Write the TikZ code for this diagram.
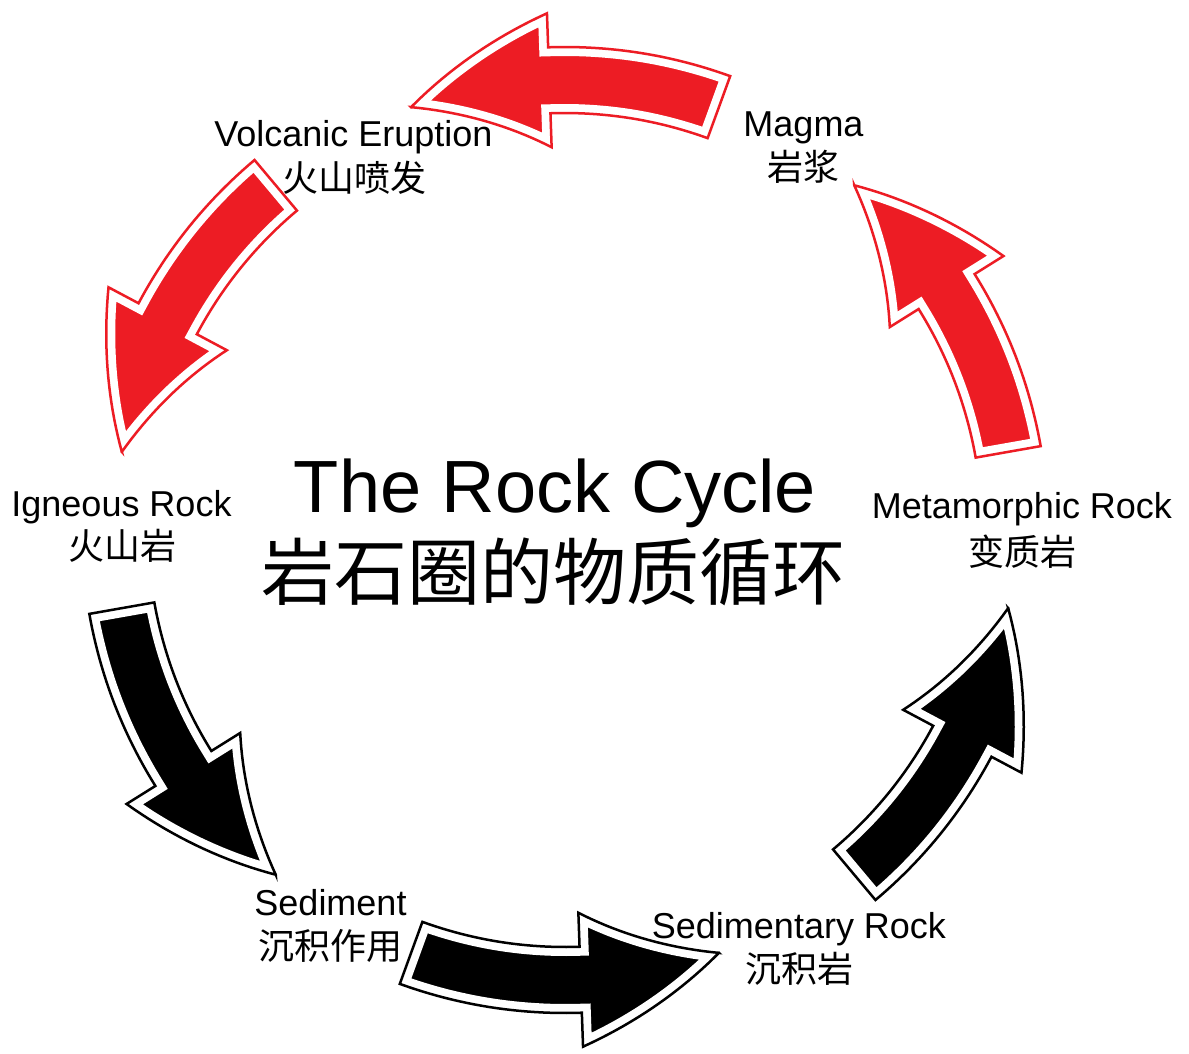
\documentclass[tikz,border=0pt]{standalone}
\usepackage{fontspec}
\setmainfont{Liberation Sans}
\newfontfamily\cjk{Noto Sans CJK SC}
\definecolor{rockred}{HTML}{ED1C24}
\tikzset{
  lbl/.style={anchor=base, inner sep=0pt, font=\fontsize{36}{40}\selectfont},
  cjklbl/.style={anchor=base, inner sep=0pt, font=\cjk\fontsize{36}{40}\selectfont},
  titlelbl/.style={anchor=base, inner sep=0pt, font=\fontsize{74}{80}\selectfont},
  cjktitle/.style={anchor=base, inner sep=0pt, font=\cjk\fontsize{73}{80}\selectfont},
  blockarrow/.style={preaction={fill=#1}, draw=white, line width=18pt, line join=miter,
    postaction={draw=#1, line width=2.5pt, line join=miter}}
}
\newcommand\rockarrow[2]{%
  \pgfmathsetmacro\ta{#1}%
  \pgfmathsetmacro\tb{#1+22}%
  \pgfmathsetmacro\tc{#1+40}%
  \path[blockarrow=#2]
    plot[domain=\ta:\tb, samples=25] (\x:483)
    -- (\tb:517)
    -- plot[domain=\tb:\tc, samples=20] (\x:{517-(\x-\tb)*67/18})
    -- plot[domain=\tc:\tb, samples=20] (\x:{383+(\x-\tb)*67/18})
    -- (\tb:417)
    -- plot[domain=\tb:\ta, samples=25] (\x:417)
    -- cycle;
}
\begin{document}
\begin{tikzpicture}[x=1pt, y=1pt]
  \useasboundingbox (0,0) rectangle (1189,-1053);
  \fill[white] (0,0) rectangle (1189,-1053);
  \begin{scope}[shift={(565,-530)}]
    \rockarrow{70}{rockred}
    \rockarrow{130}{rockred}
    \rockarrow{190}{black}
    \rockarrow{250}{black}
    \rockarrow{310}{black}
    \rockarrow{10}{rockred}
  \end{scope}
  \node[lbl] (volc) at (353.5,-146) {Volcanic Eruption};
  \node[cjklbl] (volccn) at (354.5,-191) {火山喷发};
  \node[lbl] (magma) at (803.5,-136) {Magma};
  \node[cjklbl] (magmacn) at (803,-180) {岩浆};
  \node[lbl] (ign) at (121.5,-516) {Igneous Rock};
  \node[cjklbl] (igncn) at (122,-559) {火山岩};
  \node[lbl] (meta) at (1022,-518) {Metamorphic Rock};
  \node[cjklbl] (metacn) at (1022,-565) {变质岩};
  \node[lbl] (sed) at (330.5,-915) {Sediment};
  \node[cjklbl] (sedcn) at (330,-959) {沉积作用};
  \node[lbl] (sedr) at (799,-938) {Sedimentary Rock};
  \node[cjklbl] (sedrcn) at (799,-982) {沉积岩};
  \node[titlelbl] (title) at (555,-512) {The Rock Cycle};
  \node[cjktitle] (titlecn) at (553.5,-599) {岩石圈的物质循环};
\end{tikzpicture}
\end{document}
